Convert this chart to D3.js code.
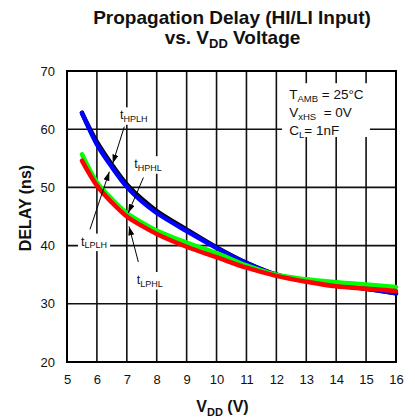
<!DOCTYPE html>
<html><head><meta charset="utf-8">
<script src="https://cdn.jsdelivr.net/npm/d3@7/dist/d3.min.js"></script>
<style>
body{margin:0;background:#fff}
svg{display:block;font-family:Arial,"Liberation Sans",Helvetica,sans-serif}
</style>
</head><body><div id="chart"></div>
<script>
// ---- data ----
const vdd   = [5.5, 6, 6.5, 7, 7.5, 8, 9, 10, 11, 12, 13, 14, 15, 16];
const tHPLH = [62.8, 57.4, 53.5, 50.1, 47.6, 45.6, 42.5, 39.6, 37.0, 35.0, 33.9, 33.2, 32.6, 31.8];
const tHPHL = [62.8, 57.8, 53.9, 50.5, 48.0, 45.95, 42.75, 39.7, 37.05, 35.0, 33.9, 33.2, 32.6, 31.8];
const tLPLH = [55.7, 50.9, 48.0, 45.6, 44.0, 42.6, 40.5, 38.7, 36.6, 35.0, 34.2, 33.7, 33.3, 32.9];
const tLPHL = [54.6, 50.3, 47.4, 45.0, 43.4, 42.0, 39.8, 38.0, 36.2, 34.8, 33.8, 33.0, 32.6, 32.2];
const xTicks = [5, 6, 7, 8, 9, 10, 11, 12, 13, 14, 15, 16];
const yTicks = [20, 30, 40, 50, 60, 70];

const W = 415, H = 420;
const x = d3.scaleLinear().domain([5, 16]).range([67, 396]);
const y = d3.scaleLinear().domain([20, 70]).range([362, 71]);

const svg = d3.select("#chart").append("svg").attr("width", W).attr("height", H);

// title
const title = svg.append("g").attr("font-weight", "bold").attr("font-size", 19).attr("text-anchor", "middle").attr("fill", "#111");
title.append("text").attr("x", 232).attr("y", 24).text("Propagation Delay (HI/LI Input)");
const t2 = title.append("text").attr("x", 232.5).attr("y", 44);
t2.append("tspan").text("vs. V");
t2.append("tspan").attr("font-size", 13).attr("dy", 4).text("DD");
t2.append("tspan").attr("dy", -4).text(" Voltage");

// grid
const grid = svg.append("g").attr("stroke", "#111").attr("stroke-width", 1.6);
grid.selectAll("line.v").data(xTicks).join("line").attr("class", "v")
  .attr("x1", d => x(d)).attr("x2", d => x(d)).attr("y1", y(20)).attr("y2", y(70));
grid.selectAll("line.h").data(yTicks).join("line").attr("class", "h")
  .attr("x1", x(5)).attr("x2", x(16)).attr("y1", d => y(d)).attr("y2", d => y(d));
svg.append("rect").attr("x", x(5)).attr("y", y(70)).attr("width", x(16) - x(5)).attr("height", y(20) - y(70))
  .attr("fill", "none").attr("stroke", "#000").attr("stroke-width", 2);

// axes labels via d3 axes
const xAxis = svg.append("g").attr("transform", `translate(0,${y(20)})`)
  .call(d3.axisBottom(x).tickValues(xTicks).tickSize(0).tickPadding(12.8).tickFormat(d3.format("d")));
const yAxis = svg.append("g").attr("transform", `translate(${x(5)},0)`)
  .call(d3.axisLeft(y).tickValues(yTicks).tickSize(0).tickPadding(12).tickFormat(d3.format("d")));
[xAxis, yAxis].forEach(g => {
  g.select(".domain").remove();
  g.selectAll("text").attr("font-size", 13).attr("fill", "#111");
  g.attr("font-family", null);
});

// axis titles
const xt = svg.append("text").attr("x", 222.5).attr("y", 412).attr("text-anchor", "middle")
  .attr("font-weight", "bold").attr("font-size", 16).attr("fill", "#111");
xt.append("tspan").text("V");
xt.append("tspan").attr("font-size", 11).attr("dy", 4).text("DD");
xt.append("tspan").attr("dy", -4).text(" (V)");
svg.append("text").attr("transform", "translate(30.7,208) rotate(-90)").attr("text-anchor", "middle")
  .attr("font-weight", "bold").attr("font-size", 16).attr("fill", "#111").text("DELAY (ns)");

// conditions box
const box = svg.append("g");
box.append("rect").attr("x", x(12.19)).attr("y", y(67.9)).attr("width", x(15.13) - x(12.19))
  .attr("height", y(58.66) - y(67.9)).attr("fill", "#fff");
const cond = [
  {main: "T", sub: "AMB", rest: " = 25°C", d: 65.14},
  {main: "V", sub: "xHS", rest: "\u00a0 = 0V", d: 62.1},
  {main: "C", sub: "L", rest: "= 1nF", d: 59.0}
];
cond.forEach(c => {
  const t = box.append("text").attr("x", x(12.43)).attr("y", y(c.d)).attr("font-size", 13.5).attr("fill", "#111");
  t.append("tspan").text(c.main);
  t.append("tspan").attr("font-size", 9.5).attr("dy", 3).text(c.sub);
  t.append("tspan").attr("dy", -3).text(c.rest);
});

// curve labels (white backgrounds)
const labels = [
  {sub: "HPLH", v: 6.77, d: 61.7, from: [6.916, 60.43], tip: [6.528, 54.1]},
  {sub: "HPHL", v: 7.25, d: 53.3, from: [7.555, 51.7], tip: [7.047, 45.6]},
  {sub: "LPLH", v: 5.47, d: 40.0, from: [5.769, 42.8], tip: [6.415, 52.7]},
  {sub: "LPHL", v: 7.33, d: 33.4, from: [7.385, 37.2], tip: [7.074, 43.3]}
];
const lab = svg.append("g");
labels.forEach(l => {
  const g = lab.append("g");
  const t = g.append("text").attr("x", x(l.v)).attr("y", y(l.d)).attr("font-size", 12.5).attr("fill", "#111");
  t.append("tspan").text("t");
  t.append("tspan").attr("font-size", 9).attr("dy", 2.5).text(l.sub);
  const bb = t.node().getBBox();
  g.insert("rect", "text").attr("x", bb.x - 3).attr("y", bb.y - 1).attr("width", bb.width + 6).attr("height", bb.height + 2).attr("fill", "#fff");
});

// curves
const line = d3.line().x(d => x(d[0])).y(d => y(d[1])).curve(d3.curveCatmullRom.alpha(0.5));
const series = [
  {vals: tHPHL, color: "#000000"},
  {vals: tHPLH, color: "#0000ff"},
  {vals: tLPLH, color: "#00ff00"},
  {vals: tLPHL, color: "#ff0000"}
];
svg.append("g").selectAll("path").data(series).join("path")
  .attr("d", s => line(vdd.map((v, i) => [v, s.vals[i]])))
  .attr("fill", "none").attr("stroke", s => s.color).attr("stroke-width", 4.5)
  .attr("stroke-linecap", "round").attr("stroke-linejoin", "round");

// arrows
svg.append("defs").append("marker").attr("id", "ah").attr("viewBox", "0 0 9 6")
  .attr("refX", 9).attr("refY", 3).attr("markerWidth", 9).attr("markerHeight", 6)
  .attr("markerUnits", "userSpaceOnUse").attr("orient", "auto")
  .append("path").attr("d", "M0,0L9,3L0,6Z").attr("fill", "#000");
svg.append("g").selectAll("line").data(labels).join("line")
  .attr("x1", l => x(l.from[0])).attr("y1", l => y(l.from[1]))
  .attr("x2", l => x(l.tip[0])).attr("y2", l => y(l.tip[1]))
  .attr("stroke", "#000").attr("stroke-width", 1).attr("marker-end", "url(#ah)");
</script>
</body></html>
